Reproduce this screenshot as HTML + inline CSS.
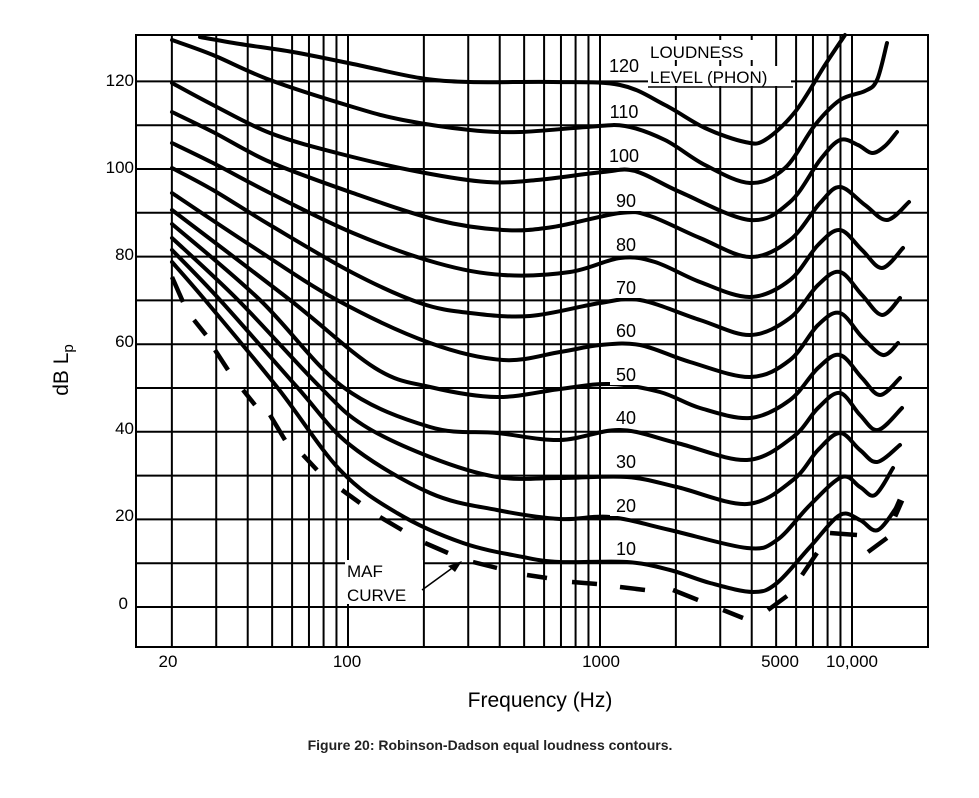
<!DOCTYPE html>
<html><head><meta charset="utf-8">
<style>
html,body{margin:0;padding:0;background:#fff;}
body{width:979px;height:793px;overflow:hidden;font-family:"Liberation Sans",Arial,sans-serif;}
</style></head>
<body>
<svg id="s" width="979" height="793" xmlns="http://www.w3.org/2000/svg" font-family="Liberation Sans, Arial, sans-serif">
<g id="grid" stroke="#000" stroke-width="2" fill="none"></g>
<g id="curves" stroke="#000" stroke-width="4" fill="none" stroke-linejoin="round" stroke-linecap="round"></g>
<g id="maf" stroke="#000" stroke-width="4.5" fill="none" stroke-linecap="butt"></g>
<g font-size="18" fill="#000" text-anchor="middle">
<rect x="603" y="52" width="42" height="22" fill="#fff"/><text x="624" y="72">120</text>
<rect x="603" y="100" width="42" height="22" fill="#fff"/><text x="624" y="118">110</text>
<rect x="603" y="144" width="42" height="22" fill="#fff"/><text x="624" y="162">100</text>
<rect x="610" y="189" width="30" height="22" fill="#fff"/><text x="626" y="207">90</text>
<rect x="610" y="233" width="30" height="22" fill="#fff"/><text x="626" y="251">80</text>
<rect x="610" y="276" width="30" height="22" fill="#fff"/><text x="626" y="294">70</text>
<rect x="610" y="319" width="30" height="22" fill="#fff"/><text x="626" y="337">60</text>
<rect x="610" y="363" width="30" height="22" fill="#fff"/><text x="626" y="381">50</text>
<rect x="610" y="406" width="30" height="22" fill="#fff"/><text x="626" y="424">40</text>
<rect x="610" y="450" width="30" height="22" fill="#fff"/><text x="626" y="468">30</text>
<rect x="610" y="494" width="30" height="22" fill="#fff"/><text x="626" y="512">20</text>
<rect x="610" y="537" width="30" height="22" fill="#fff"/><text x="626" y="555">10</text>
</g>
<g font-size="17" fill="#000">
<rect x="648" y="40" width="110" height="20" fill="#fff"/>
<text x="650" y="58">LOUDNESS</text>
<rect x="648" y="66" width="143" height="20" fill="#fff"/>
<text x="650" y="83">LEVEL (PHON)</text>
<line x1="648" y1="87" x2="793" y2="87" stroke="#000" stroke-width="1.5"/>
<rect x="345" y="560" width="78" height="44" fill="#fff"/>
<text x="347" y="577">MAF</text>
<text x="347" y="601">CURVE</text>
<line x1="422" y1="590" x2="455" y2="566" stroke="#000" stroke-width="1.5"/>
<polygon points="462,561 448,566 455,572" fill="#000"/>
</g>
<g font-size="17" fill="#000" text-anchor="end">
<text x="134" y="86">120</text>
<text x="134" y="173">100</text>
<text x="134" y="260">80</text>
<text x="134" y="347">60</text>
<text x="134" y="434">40</text>
<text x="134" y="521">20</text>
<text x="128" y="609">0</text>
</g>
<g font-size="17" fill="#000" text-anchor="middle">
<text x="168" y="667">20</text>
<text x="347" y="667">100</text>
<text x="601" y="667">1000</text>
<text x="780" y="667">5000</text>
<text x="852" y="667">10,000</text>
</g>
<text x="540" y="707" font-size="21" text-anchor="middle">Frequency (Hz)</text>
<text transform="translate(68,370) rotate(-90)" font-size="21" text-anchor="middle">dB L<tspan font-size="15" dy="5">p</tspan></text>
<text x="490" y="750" font-size="14" font-weight="bold" fill="#222" text-anchor="middle">Figure 20: Robinson-Dadson equal loudness contours.</text>
</svg>
<script>
(function(){
var NS="http://www.w3.org/2000/svg";
function el(p,t,a){var e=document.createElementNS(NS,t);for(var k in a)e.setAttribute(k,a[k]);p.appendChild(e);return e;}
var g=document.getElementById('grid');
var L=136,R=928,T=35,B=647;
el(g,'rect',{x:L,y:T,width:R-L,height:B-T});
function X(f){return 348+252*(Math.log10(f)-2);}
var fs=[20,30,40,50,60,70,80,90,100,200,300,400,500,600,700,800,900,1000,2000,3000,4000,5000,6000,7000,8000,9000,10000];
fs.forEach(function(f){var x=X(f);el(g,'line',{x1:x,y1:T,x2:x,y2:B});});
for(var d=120;d>=0;d-=10){var y=607-4.38*d;el(g,'line',{x1:L,y1:y,x2:R,y2:y});}
var C={
120:[[200,37],[240,44],[293,52],[353,64],[420,78],[470,82],[553,82],[620,85],[665,105],[705,128],[745,142],[765,140],[795,112],[825,65],[845,35]],
110:[[172,40],[213,55],[270,80],[353,107],[403,120],[470,130],[520,132],[587,127],[625,126],[665,140],[705,165],[750,183],[785,168],[815,125],[840,100],[865,91],[877,80],[887,43]],
100:[[172,83],[213,105],[270,133],[337,153],[420,172],[487,182],[537,180],[603,172],[635,171],[680,192],[750,220],[790,202],[820,160],[840,140],[858,145],[872,153],[885,146],[897,132]],
90:[[172,112],[213,132],[270,162],[353,193],[437,220],[503,230],[553,227],[620,213],[650,216],[700,238],[750,257],[790,240],[820,203],[840,187],[865,205],[887,220],[909,202]],
80:[[172,143],[213,163],[270,193],[353,233],[437,263],[503,275],[570,272],[620,258],[655,262],[700,282],[750,297],[790,280],[818,245],[840,230],[862,250],[882,268],[903,248]],
70:[[172,168],[213,190],[270,225],[353,273],[420,303],[470,313],[530,316],[600,303],[640,300],[700,320],[750,335],[790,318],[818,285],[840,272],[862,295],[882,315],[900,298]],
60:[[172,193],[250,245],[337,300],[430,343],[503,360],[560,352],[600,345],[640,345],[690,362],[750,377],[790,360],[818,325],[840,313],[862,337],[883,355],[898,343]],
50:[[172,210],[290,300],[375,368],[430,387],[497,397],[560,389],[610,384],[660,392],[700,408],[750,418],[790,400],[818,368],[840,355],[862,378],[880,395],[900,378]],
40:[[172,224],[260,300],[343,387],[430,427],[497,433],[560,440],[620,430],[677,443],[747,460],[793,437],[818,408],[840,393],[860,415],[878,430],[902,408]],
30:[[172,238],[238,300],[320,387],[363,425],[430,457],[497,477],[560,478],[627,477],[677,487],[747,504],[793,480],[818,450],[840,433],[860,450],[877,462],[900,445]],
20:[[172,250],[220,300],[297,387],[350,445],[430,493],[497,510],[560,519],[610,517],[670,530],[747,548],[777,540],[810,505],[842,477],[860,487],[875,495],[893,468]],
10:[[172,262],[205,300],[277,387],[340,470],[397,513],[463,543],[523,557],[560,562],[627,562],[670,570],[710,583],[753,592],[777,583],[810,547],[840,515],[860,520],[878,530],[900,502]]
};
function path(p){
 var d="M"+p[0][0]+","+p[0][1];
 for(var i=0;i<p.length-1;i++){
  var p0=p[i-1]||p[i],p1=p[i],p2=p[i+1],p3=p[i+2]||p2;
  var c1x=p1[0]+(p2[0]-p0[0])/6,c1y=p1[1]+(p2[1]-p0[1])/6;
  var c2x=p2[0]-(p3[0]-p1[0])/6,c2y=p2[1]-(p3[1]-p1[1])/6;
  d+=" C"+c1x.toFixed(1)+","+c1y.toFixed(1)+" "+c2x.toFixed(1)+","+c2y.toFixed(1)+" "+p2[0]+","+p2[1];
 }
 return d;
}
var cg=document.getElementById('curves');
for(var k in C){el(cg,'path',{d:path(C[k])});}
var m=document.getElementById('maf');
var dashes=[[172,277,183,302],[194,320,206,335],[215,350,228,370],[243,390,255,405],[270,415,285,440],[303,455,317,470],[342,490,360,503],[380,517,402,530],[425,543,448,553],[473,562,497,568],[527,575,547,578],[572,582,597,584],[620,587,645,590],[673,590,698,600],[723,610,743,618],[768,610,787,596],[802,575,817,553],[830,533,857,535],[868,552,887,538]];
dashes.forEach(function(a){el(m,'line',{x1:a[0],y1:a[1],x2:a[2],y2:a[3]});});
el(m,'line',{x1:894,y1:516,x2:901,y2:500,'stroke-width':7});
})();
</script>
</body></html>
